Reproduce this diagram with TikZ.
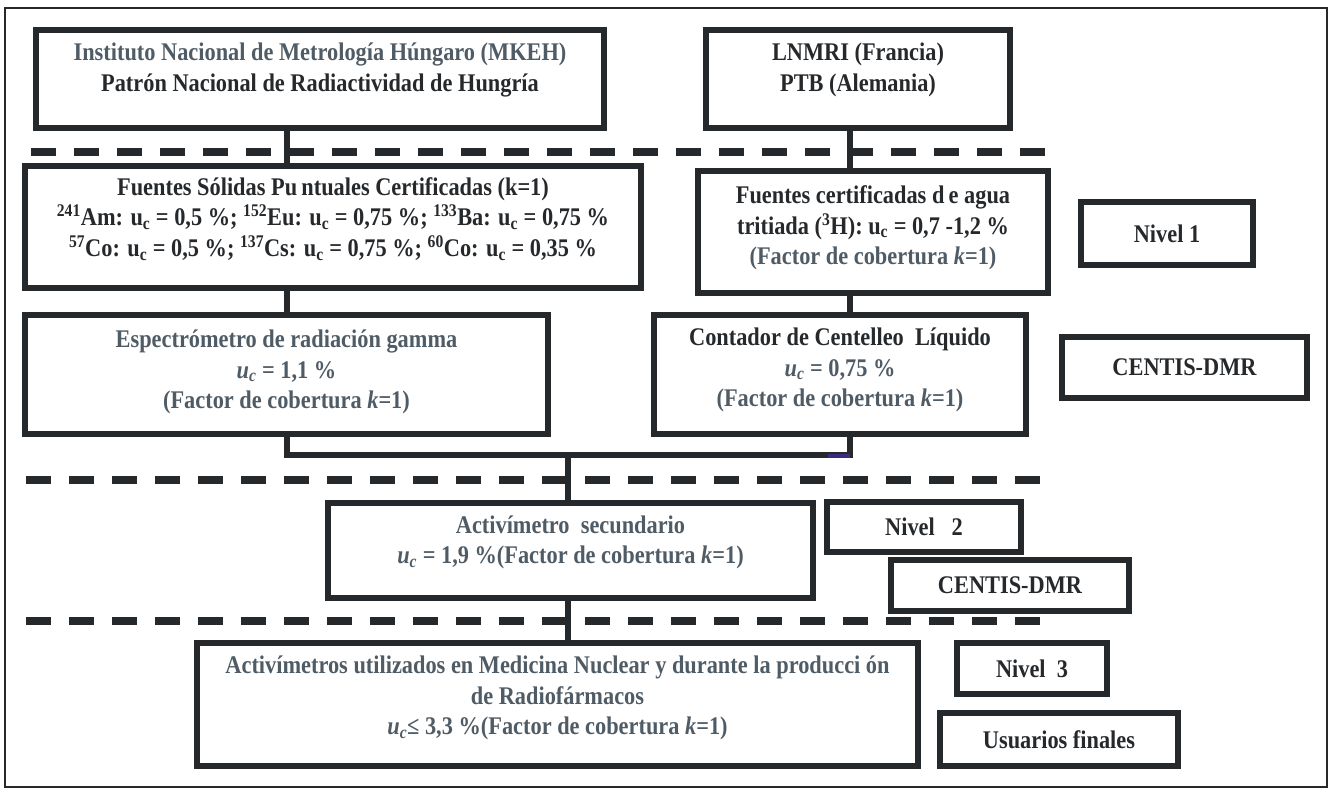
\documentclass[tikz,border=0pt]{standalone}
\usepackage{fontspec}
\setmainfont{Liberation Serif}[FakeStretch=0.88]
\definecolor{dark}{HTML}{26292C}
\definecolor{slate}{HTML}{4F5B65}
\definecolor{purp}{HTML}{3C2A80}
\tikzset{
  box/.style={draw=dark, line width=6pt, inner sep=0pt, text=dark,
    font=\bfseries\fontsize{25.4}{30.5}\selectfont},
  txt/.style={align=center, inner sep=0pt, text=dark,
    font=\bfseries\fontsize{25.4}{30.5}\selectfont},
  conn/.style={draw=dark, line width=6pt},
  dashln/.style={draw=dark, line width=7.5pt, dash pattern=on 25pt off 18pt},
  frame/.style={draw=dark, line width=1.5pt}
}
\newcommand{\uc}{u\textsubscript{c}}
\newcommand{\iuc}{\textit{u\textsubscript{c}}}
\begin{document}
\begin{tikzpicture}[x=1pt,y=-1pt]
\useasboundingbox (0,0) rectangle (1330,790);
\draw[frame] (5,8) rectangle (1327,787);

% dashed level separators
\coordinate (d1a) at (31,152);  \coordinate (d1b) at (1045,152);
\coordinate (d2a) at (26,480);  \coordinate (d2b) at (1040,480);
\coordinate (d3a) at (26,621);  \coordinate (d3b) at (1047,621);
\draw[dashln] (d1a) -- (d1b);
\draw[dashln] (d2a) -- (d2b);
\draw[dashln] (d3a) -- (d3b);

% boxes
\node[box, minimum width=568pt, minimum height=98pt]  (mkeh)     at (320,79) {};
\node[box, minimum width=304pt, minimum height=98pt]  (lnmri)    at (858,79) {};
\node[box, minimum width=616pt, minimum height=122pt] (solid)    at (333,227) {};
\node[box, minimum width=350pt, minimum height=122pt] (cert)     at (873,232) {};
\node[box, minimum width=172pt, minimum height=63pt]  (nivel1)   at (1167,233.5) {Nivel 1};
\node[box, minimum width=523pt, minimum height=119pt] (spectro)  at (286.5,374.5) {};
\node[box, minimum width=372pt, minimum height=119pt] (contador) at (840,374.5) {};
\node[box, minimum width=245pt, minimum height=61pt]  (centis1)  at (1184.5,367.5) {CENTIS-DMR};
\node[box, minimum width=485pt, minimum height=95pt]  (act2)     at (570.5,550.5) {};
\node[box, minimum width=194pt, minimum height=50pt]  (nivel2)   at (924,527) {Nivel\ \ \ 2};
\node[box, minimum width=238pt, minimum height=51pt]  (centis2)  at (1010,585.5) {CENTIS-DMR};
\node[box, minimum width=721pt, minimum height=123pt] (act3)     at (557.5,704.5) {};
\node[box, minimum width=150pt, minimum height=51pt]  (nivel3)   at (1032,668.5) {Nivel\ \ 3};
\node[box, minimum width=238pt, minimum height=53pt]  (usu)      at (1059,739.5) {Usuarios finales};

% texts
\node[txt] (mkehT) at (320,70) {\textcolor{slate}{Instituto Nacional de Metrología Húngaro (MKEH)}\\Patrón Nacional de Radiactividad de Hungría};
\node[txt] (lnmriT) at (858,70) {LNMRI (Francia)\\PTB (Alemania)};
\node[txt] (solidT) at (333,219) {Fuentes Sólidas Pu\,ntuales Certificadas (k=1)\\
\textsuperscript{241}Am: \uc{} = 0,5 \%; \textsuperscript{152}Eu: \uc{} = 0,75 \%; \textsuperscript{133}Ba: \uc{} = 0,75 \%\\
\textsuperscript{57}Co: \uc{} = 0,5 \%; \textsuperscript{137}Cs: \uc{} = 0,75 \%; \textsuperscript{60}Co: \uc{} = 0,35 \%};
\node[txt] (certT) at (873,228) {Fuentes certificadas d\,e agua\\tritiada (\textsuperscript{3}H): \uc{} = 0,7 -1,2 \%\\\textcolor{slate}{(Factor de cobertura \textit{k}=1)}};
\node[txt, text=slate] (spectroT) at (286.5,372) {Espectrómetro de radiación gamma\\\iuc{} = 1,1 \%\\(Factor de cobertura \textit{k}=1)};
\node[txt] (contadorT) at (840,370) {Contador de Centelleo\ \ Líquido\\\textcolor{slate}{\iuc{} = 0,75 \%}\\\textcolor{slate}{(Factor de cobertura \textit{k}=1)}};
\node[txt, text=slate] (act2T) at (570.5,542.5) {Activímetro\ \ secundario\\\iuc{} = 1,9 \%(Factor de cobertura \textit{k}=1)};
\node[txt, text=slate] (act3T) at (557.5,698) {Activímetros utilizados en Medicina Nuclear y durante la producci\ ón\\de Radiofármacos\\\iuc{}≤ 3,3 \%(Factor de cobertura \textit{k}=1)};

% connectors
\coordinate (lx) at (287,0);
\coordinate (rx) at (849.5,0);
\coordinate (join) at (568,455);
\draw[conn] (mkeh.south -| lx) -- (solid.north -| lx);
\draw[conn] (solid.south -| lx) -- (spectro.north -| lx);
\draw[conn] (lnmri.south -| rx) -- (cert.north -| rx);
\draw[conn] (cert.south -| rx) -- (contador.north -| rx);
\draw[conn] (spectro.south -| lx) |- (join) -| (contador.south -| rx);
\coordinate (pa) at (828,456);
\draw[draw=purp, line width=4pt] (pa) -- (pa -| rx);
\draw[conn] (join) -- (act2.north -| join);
\draw[conn] (act2.south -| join) -- (act3.north -| join);
\end{tikzpicture}
\end{document}
